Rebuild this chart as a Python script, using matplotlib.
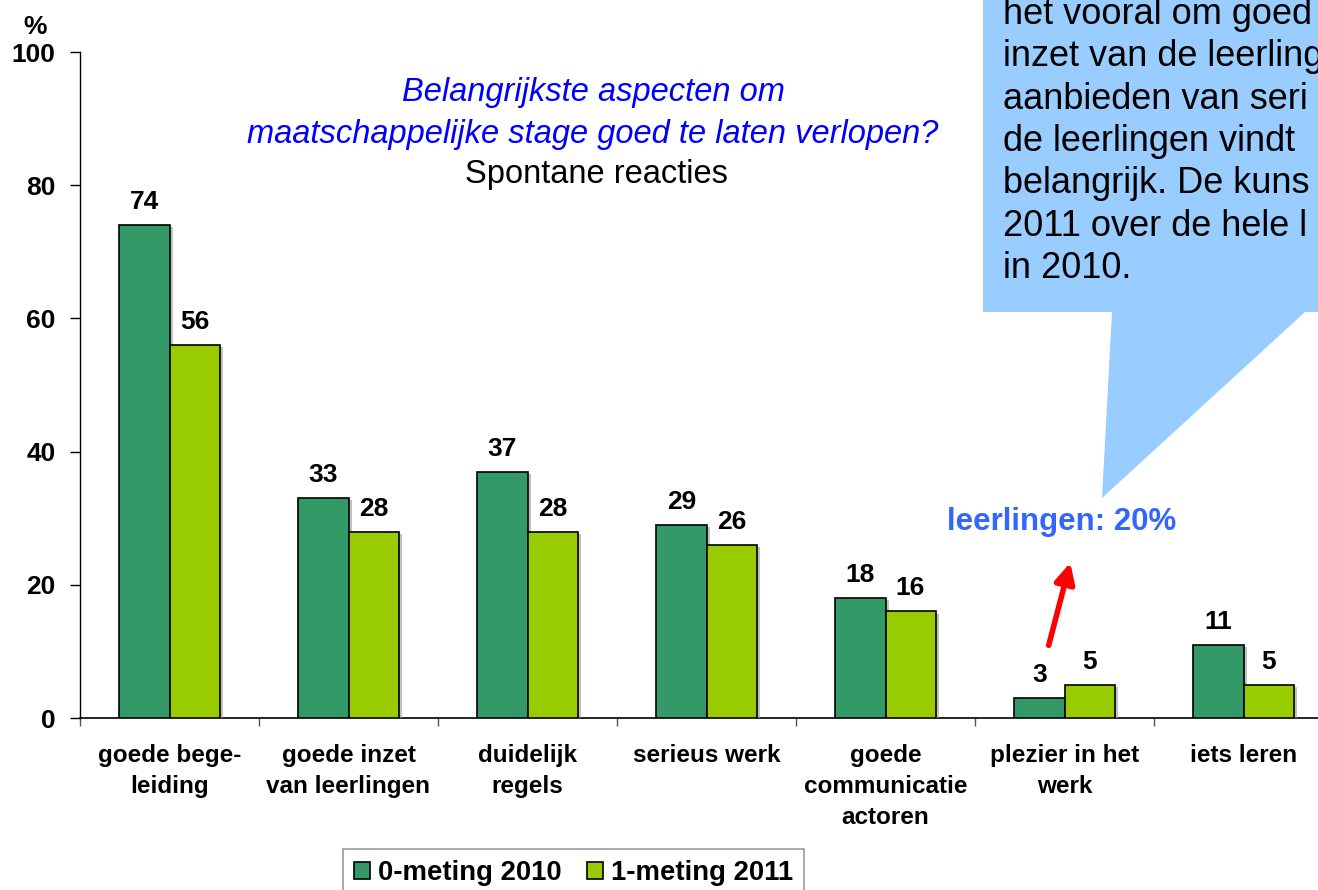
import matplotlib
matplotlib.use("Agg")
import matplotlib.pyplot as plt
import matplotlib.patheffects as pe
from matplotlib.patches import Polygon, FancyArrowPatch
import numpy as np

plt.rcParams['font.family'] = ['Liberation Sans', 'DejaVu Sans']

categories = ["goede bege-\nleiding", "goede inzet\nvan leerlingen", "duidelijk\nregels",
              "serieus werk", "goede\ncommunicatie\nactoren", "plezier in het\nwerk", "iets leren"]
meting_2010 = [74, 33, 37, 29, 18, 3, 11]
meting_2011 = [56, 28, 28, 26, 16, 5, 5]
series_names = ["0-meting 2010", "1-meting 2011"]
y_ticks = [0, 20, 40, 60, 80, 100]

title_lines = ["Belangrijkste aspecten om", "maatschappelijke stage goed te laten verlopen?"]
subtitle = "Spontane reacties"
callout_lines = ["het vooral om goed", "inzet van de leerling", "aanbieden van seri",
                 "de leerlingen vindt", "belangrijk. De kuns", "2011 over de hele l", "in 2010."]
note = "leerlingen: 20%"

W, H = 1318, 890
fig = plt.figure(figsize=(W / 100, H / 100), dpi=100)

def fx(px):
    return px / W

def fy(py):
    return 1 - py / H

# speech bubble (behind axes)
bubble_pts = [(983, -20), (983, 312), (1112, 312), (1102, 498), (1305, 312), (1340, 312), (1340, -20)]
bubble = Polygon([(fx(x), fy(y)) for x, y in bubble_pts], closed=True, transform=fig.transFigure,
                 facecolor="#99CCFF", edgecolor="none", zorder=0)
fig.patches.append(bubble)
for k, line in enumerate(callout_lines):
    fig.text(fx(1003), fy(24 + 42.3 * k), line, fontsize=26, color="black",
             ha="left", va="baseline", zorder=1)

ax = fig.add_axes([fx(80), fy(718), (1333 - 80) / W, (718 - 52) / H])
ax.patch.set_alpha(0)

x = np.arange(len(categories))
bw = 0.28
shadow = [pe.SimplePatchShadow(offset=(2.5, -1.5), shadow_rgbFace="#999999", alpha=0.6), pe.Normal()]
b1 = ax.bar(x - bw / 2, meting_2010, bw, color="#339966", edgecolor="black", linewidth=1.2,
            label=series_names[0], zorder=3)
b2 = ax.bar(x + bw / 2, meting_2011, bw, color="#99CC00", edgecolor="black", linewidth=1.2,
            label=series_names[1], zorder=3)
for bars in (b1, b2):
    for r in bars:
        r.set_path_effects(shadow)

for xs, vals in ((x - bw / 2, meting_2010), (x + bw / 2, meting_2011)):
    for xi, v in zip(xs, vals):
        ax.annotate(f"{v}", (xi, v), xytext=(0, 11.5), textcoords="offset points",
                    ha="center", va="baseline", fontsize=19, fontweight="bold", zorder=5)

ax.set_xlim(-0.5, len(categories) - 0.5)
ax.set_ylim(0, 100)
ax.set_yticks(y_ticks)
ax.set_yticklabels([str(t) for t in y_ticks], fontsize=19, fontweight="bold")
ax.tick_params(axis="y", direction="out", length=7, width=1, pad=10.5)

ax.set_xticks(x)
ax.set_xticklabels(categories, fontsize=17.5, fontweight="bold")
for lab in ax.get_xticklabels():
    lab.set_linespacing(1.42)
ax.tick_params(axis="x", which="major", length=0, pad=19)
ax.set_xticks(np.arange(-0.5, len(categories) + 0.5, 1), minor=True)
ax.tick_params(axis="x", which="minor", direction="out", length=6, width=1, color="#555555")

for s in ("top", "right"):
    ax.spines[s].set_visible(False)
ax.spines["left"].set_linewidth(1)
ax.spines["bottom"].set_linewidth(1.2)

fig.text(fx(35), fy(27), "%", fontsize=19, fontweight="bold", ha="center", va="center")

# title
fig.text(fx(593), fy(93), title_lines[0], fontsize=23.5, style="italic", color="#0000FF",
         ha="center", va="center")
fig.text(fx(593), fy(134), title_lines[1], fontsize=23.5, style="italic", color="#0000FF",
         ha="center", va="center")
fig.text(fx(596), fy(174), subtitle, fontsize=23.5, color="black", ha="center", va="center")

# note + arrow
fig.text(fx(1062), fy(522), note, fontsize=22.5, fontweight="bold", color="#3366FF",
         ha="center", va="center")
arrow = FancyArrowPatch((fx(1048), fy(648)), (fx(1071), fy(560)), transform=fig.transFigure,
                        arrowstyle="-|>,head_length=12,head_width=6", mutation_scale=1,
                        color="#FF0000", linewidth=4, zorder=6)
fig.patches.append(arrow)

leg = ax.legend(loc="upper left", bbox_to_anchor=(fx(343), fy(849)), bbox_transform=fig.transFigure,
                ncol=2, frameon=True, fancybox=False, prop={"size": 19.8, "weight": "bold"},
                handlelength=0.58, handleheight=0.58, handletextpad=0.3, columnspacing=0.9,
                borderpad=0.4, borderaxespad=0)
leg.get_frame().set_edgecolor("#808080")
leg.get_frame().set_linewidth(1.2)
for h in leg.legend_handles:
    h.set_path_effects([])

fig.savefig("out.png", dpi=100)
